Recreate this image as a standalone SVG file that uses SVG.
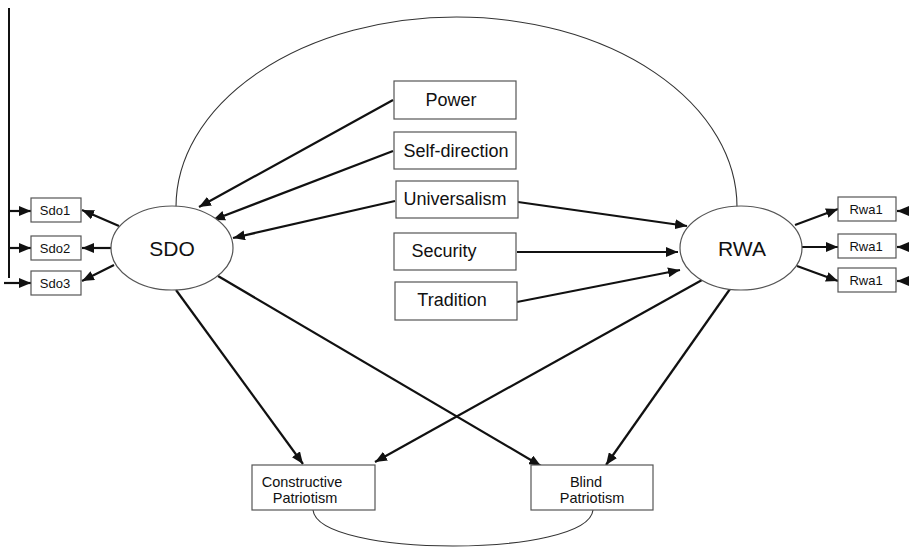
<svg xmlns="http://www.w3.org/2000/svg" width="909" height="547" viewBox="0 0 909 547">
<defs>
<marker id="ah" viewBox="0 0 12 10" refX="12" refY="5" markerWidth="12" markerHeight="10" markerUnits="userSpaceOnUse" orient="auto">
<path d="M0,0 L12,5 L0,10 z" fill="#111"/>
</marker>
</defs>
<style>
.box{fill:#fff;stroke:#555;stroke-width:1.2}
.ell{fill:#fff;stroke:#555;stroke-width:1.2}
.arr{fill:none;stroke:#111;stroke-width:2.2;marker-end:url(#ah)}
.ln{fill:none;stroke:#111;stroke-width:2}
.arc{fill:none;stroke:#333;stroke-width:1.1}
text{font-family:"Liberation Sans",Arial,sans-serif;fill:#111;text-anchor:middle}
.big{font-size:21px}
.mid{font-size:18px}
.sm{font-size:13px}
.pt{font-size:14.5px}
</style>
<rect width="909" height="547" fill="#fff"/>
<g id="connectors">
<path class="arc" d="M176,207 A280.5,190 0 0 1 737,207"/>
<path class="arc" d="M313,510 C318,558 588,558 593,510"/>
<path class="arr" d="M393,100 L199,207"/>
<path class="arr" d="M393,151 L213,220"/>
<path class="arr" d="M395,201 L233,238"/>
<path class="arr" d="M518,202 L687,226"/>
<path class="arr" d="M517,252 L678,252"/>
<path class="arr" d="M517,302 L680,270"/>
<path class="arr" d="M176,290 L303,464"/>
<path class="arr" d="M218,276 L541,466"/>
<path class="arr" d="M702,280 L375,462"/>
<path class="arr" d="M730,289 L606,465"/>
<path class="arr" d="M119,226 L82,210"/>
<path class="arr" d="M111,248 L82,248"/>
<path class="arr" d="M114,265 L82,281"/>
<path class="arr" d="M795,225 L838,209"/>
<path class="arr" d="M802,247 L838,247"/>
<path class="arr" d="M797,266 L838,281"/>
<path class="ln" d="M9,8 L9,278"/>
<path class="arr" d="M9,211 L31,211"/>
<path class="arr" d="M9,248 L31,248"/>
<path class="arr" d="M4,283 L31,283"/>
<path class="arr" d="M909,211 L897,211"/>
<path class="arr" d="M909,247 L897,247"/>
<path class="arr" d="M909,281 L897,281"/>
</g>
<g id="sdo"><ellipse class="ell" cx="172" cy="248" rx="61" ry="42"/><text class="big" x="172" y="256">SDO</text></g>
<g id="rwa"><ellipse class="ell" cx="741" cy="248" rx="61" ry="42"/><text class="big" x="742" y="256">RWA</text></g>
<g id="power"><rect class="box" x="394" y="81" width="122" height="38"/><text class="mid" x="451" y="106">Power</text></g>
<g id="selfdirection"><rect class="box" x="394" y="132" width="122" height="37"/><text class="mid" x="456" y="157">Self-direction</text></g>
<g id="universalism"><rect class="box" x="396" y="181" width="122" height="37"/><text class="mid" x="455" y="205">Universalism</text></g>
<g id="security"><rect class="box" x="394" y="233" width="122" height="37"/><text class="mid" x="444" y="257">Security</text></g>
<g id="tradition"><rect class="box" x="395" y="282" width="122" height="38"/><text class="mid" x="452" y="306">Tradition</text></g>
<g id="sdo1"><rect class="box" x="31" y="198" width="50" height="24"/><text class="sm" x="55" y="215">Sdo1</text></g>
<g id="sdo2"><rect class="box" x="31" y="236" width="50" height="24"/><text class="sm" x="55" y="253">Sdo2</text></g>
<g id="sdo3"><rect class="box" x="31" y="271" width="50" height="24"/><text class="sm" x="55" y="288">Sdo3</text></g>
<g id="rwa1a"><rect class="box" x="838" y="197" width="58" height="24"/><text class="sm" x="866" y="214">Rwa1</text></g>
<g id="rwa1b"><rect class="box" x="838" y="234" width="58" height="24"/><text class="sm" x="866" y="251">Rwa1</text></g>
<g id="rwa1c"><rect class="box" x="838" y="268" width="58" height="24"/><text class="sm" x="866" y="285">Rwa1</text></g>
<g id="constructive"><rect class="box" x="252" y="465" width="123" height="45"/><text class="pt" x="302" y="487">Constructive</text><text class="pt" x="305" y="503">Patriotism</text></g>
<g id="blind"><rect class="box" x="531" y="465" width="122" height="45"/><text class="pt" x="586" y="487">Blind</text><text class="pt" x="592" y="503">Patriotism</text></g>
</svg>
